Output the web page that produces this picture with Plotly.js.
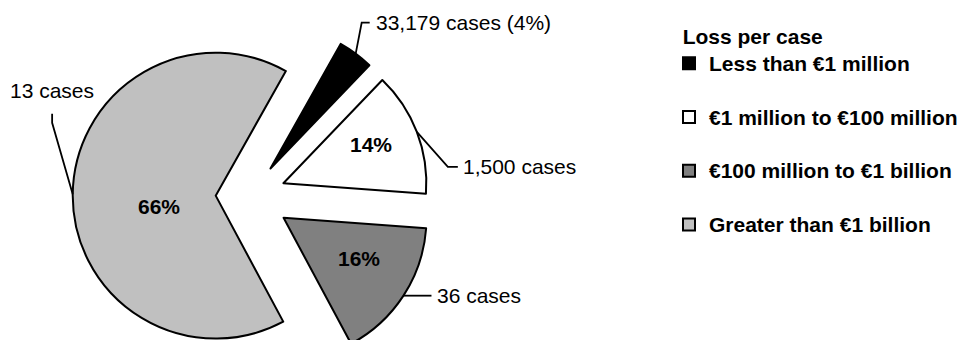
<!DOCTYPE html>
<html>
<head>
<meta charset="utf-8">
<script src="https://cdn.plot.ly/plotly-3.0.1.min.js"></script>
<style>
  html, body { margin: 0; padding: 0; overflow: hidden; background: #ffffff; }
  #chart { width: 965px; height: 379px; }
</style>
</head>
<body>
<div id="chart"></div>
<script>
// Share of total loss by size of loss per case
const categories = [
  'Less than €1 million',
  '€1 million to €100 million',
  '€100 million to €1 billion',
  'Greater than €1 billion'
];
const shareOfLoss = [4, 14, 16, 66];          // percent of total loss
const caseCounts = [33179, 1500, 36, 13];     // number of cases
const sliceColors = ['#000000', '#ffffff', '#808080', '#c0c0c0'];
const legendTitle = 'Loss per case';

// ---- layout settings ----
const W = 965, H = 379;
const FONT = 'Liberation Sans, Arial, Helvetica, sans-serif';
const pulls = [0.24, 0.25, 0.28, 0.24];
const startAngle = 29.4;
const pieDomain = { x: [0, 500 / W], y: [0, 366 / H] };

// leader lines: elbow offset from the arc midpoint, a short stub, then the text
const leaders = [
  { elbow: [6, -31],       stub: [8, 0],  text: [4, 0],    anchor: 'left' },
  { elbow: [31, 35],       stub: [10, 0], text: [3, 0],    anchor: 'left' },
  { elbow: [0, 0],         stub: [28, 0], text: [3.5, 0],  anchor: 'left' },
  { elbow: [-20.6, -71.3], stub: [0, -9], text: [0, -23],  anchor: 'center' }
];
// percentage labels inside slices: distance from apex (fraction of radius), angular nudge in degrees
const insideLabels = [null, [0.67, -2.6], [0.6, -5], [0.405, -11.3]];

const gd = document.getElementById('chart');

const trace = {
  type: 'pie',
  labels: categories.map(c => '<span style="font-size:21px">' + c + '</span><br>&nbsp;'),
  values: shareOfLoss,
  sort: false,
  direction: 'clockwise',
  rotation: startAngle,
  pull: pulls,
  marker: { colors: sliceColors, line: { color: '#000000', width: 2 } },
  textinfo: 'none',
  hoverinfo: 'skip',
  domain: pieDomain
};

const layout = {
  width: W,
  height: H,
  margin: { l: 0, r: 0, t: 0, b: 0, pad: 0, autoexpand: false },
  paper_bgcolor: '#ffffff',
  font: { family: FONT, color: '#000000' },
  showlegend: true,
  legend: {
    x: 669 / W, xanchor: 'left',
    y: 1 - 16.8 / H, yanchor: 'top',
    valign: 'top',
    bgcolor: 'rgba(0,0,0,0)',
    borderwidth: 0,
    font: { family: FONT, size: 19.5, weight: 700, color: '#000000' },
    title: { text: '&nbsp;&nbsp;' + legendTitle, font: { family: FONT, size: 21, weight: 700, color: '#000000' } }
  }
};

const toPaper = (px, py) => [px / W, 1 - py / H];
const rad = d => d * Math.PI / 180;

Plotly.newPlot(gd, [trace], layout, { staticPlot: true, displayModeBar: false }).then(() => {
  const cd = gd.calcdata && gd.calcdata[0];
  const maxPull = Math.max.apply(null, pulls);
  const boxH = H * (pieDomain.y[1] - pieDomain.y[0]);
  let cx = W * (pieDomain.x[0] + pieDomain.x[1]) / 2;
  let cy = H * (1 - (pieDomain.y[0] + pieDomain.y[1]) / 2);
  let r = boxH / (2 + 2 * maxPull);
  if (cd && cd[0] && isFinite(cd[0].r)) { cx = cd[0].cx; cy = cd[0].cy; r = cd[0].r; }

  const total = shareOfLoss.reduce((a, b) => a + b, 0);
  let angle = startAngle;
  const shapes = [];
  const annotations = [];

  shareOfLoss.forEach((v, i) => {
    const span = 360 * v / total;
    const mid = angle + span / 2;
    angle += span;
    const ux = Math.sin(rad(mid)), uy = -Math.cos(rad(mid));
    const apex = [cx + pulls[i] * r * ux, cy + pulls[i] * r * uy];
    const arcMid = [apex[0] + r * ux, apex[1] + r * uy];

    // leader line and case count
    const L = leaders[i];
    const e = [arcMid[0] + L.elbow[0], arcMid[1] + L.elbow[1]];
    const s = [e[0] + L.stub[0], e[1] + L.stub[1]];
    const pts = [arcMid, e, s].map(p => toPaper(p[0], p[1]));
    shapes.push({
      type: 'path', xref: 'paper', yref: 'paper',
      path: 'M' + pts.map(p => p[0] + ',' + p[1]).join('L'),
      line: { color: '#000000', width: 1.8 }
    });
    const t = toPaper(s[0] + L.text[0], s[1] + L.text[1]);
    const countText = caseCounts[i].toLocaleString('en-US') + ' cases';
    annotations.push({
      xref: 'paper', yref: 'paper', x: t[0], y: t[1],
      xanchor: L.anchor, yanchor: 'middle', showarrow: false,
      text: insideLabels[i] ? countText : countText + ' (' + v + '%)',
      font: { family: FONT, size: 21, color: '#000000' }
    });

    // percentage inside the slice
    const lab = insideLabels[i];
    if (lab) {
      const a = rad(mid + lab[1]);
      const p = toPaper(apex[0] + lab[0] * r * Math.sin(a), apex[1] - lab[0] * r * Math.cos(a));
      annotations.push({
        xref: 'paper', yref: 'paper', x: p[0], y: p[1],
        xanchor: 'center', yanchor: 'middle', showarrow: false,
        text: v + '%',
        font: { family: FONT, size: 21, weight: 700, color: '#000000' }
      });
    }
  });

  return Plotly.relayout(gd, { shapes: shapes, annotations: annotations });
});
</script>
</body>
</html>
